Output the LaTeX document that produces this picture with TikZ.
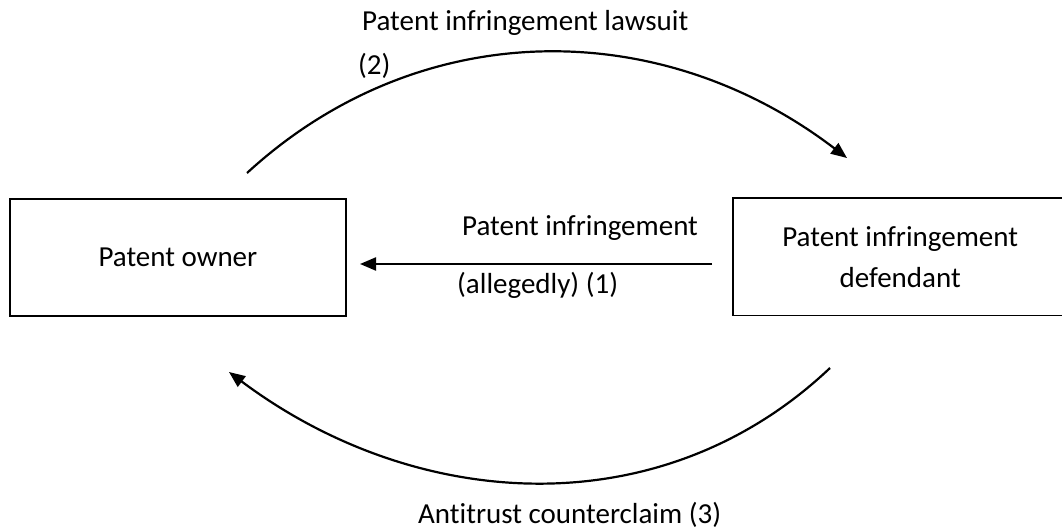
\documentclass[tikz,border=0pt]{standalone}
\usepackage{fontspec}
\setmainfont[Ligatures=NoCommon]{Carlito}
\usetikzlibrary{arrows.meta}
\begin{document}
\begin{tikzpicture}[x=1pt,y=-1pt,
  txt/.style={font=\fontsize{29}{41}\selectfont, inner sep=0pt},
  lbl/.style={txt, anchor=base west},
  boxline/.style={line width=1.8pt},
  conn/.style={line width=2.2pt, -{Triangle[length=16pt,width=13pt]}}]
\useasboundingbox[fill=white] (0,0) rectangle (1062,531);
% boxes
\node[txt, draw, boxline, anchor=north west, minimum width=336pt, minimum height=117pt] (owner) at (9,198) {Patent owner};
\node[txt, anchor=north west, align=center, minimum width=334pt, minimum height=117pt] (def) at (733,198) {Patent infringement\\defendant};
\draw[boxline] (def.north east) -- (def.north west) -- (def.south west) -- (def.south east);
% connector coordinates
\coordinate (u0) at (247,173);
\coordinate (u1) at (847,158);
\coordinate (m0) at (712,264);
\coordinate (m1) at (360,264);
\coordinate (b0) at (830,368);
\coordinate (b1) at (229,372);
% connectors
\draw[conn] (u0) .. controls (419,15) and (660,15) .. (u1);
\draw[conn] (m0) -- (m1);
\draw[conn] (b0) .. controls (661,528) and (416,512) .. (b1);
% labels
\node[lbl] (l2a) at (362,30) {Patent infringement lawsuit};
\node[lbl] (l2b) at (358,74) {(2)};
\node[lbl] (l1a) at (462,235) {Patent infringement};
\node[lbl] (l1b) at (457,293) {(allegedly) (1)};
\node[lbl] (l3) at (418,523) {Antitrust counterclaim (3)};
\end{tikzpicture}
\end{document}
